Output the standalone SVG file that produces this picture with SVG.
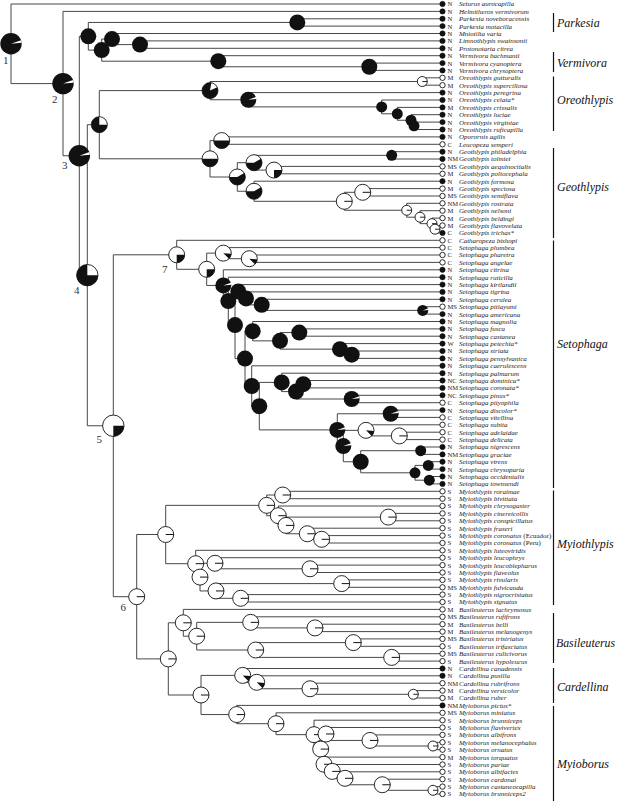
<svg xmlns="http://www.w3.org/2000/svg" width="617" height="801" viewBox="0 0 617 801">
<style>
.e{fill:none;stroke:#333;stroke-width:0.9}
.f{fill:#111;stroke:#111;stroke-width:0.5}
.o{fill:#fff;stroke:#111;stroke-width:0.9}
.c{font-family:"Liberation Serif",serif;font-size:6.6px;fill:#222}
.n{font-family:"Liberation Serif",serif;font-size:7px;font-style:italic;fill:#222}
.g{font-family:"Liberation Serif",serif;font-size:12px;font-style:italic;fill:#111}
.l{font-family:"Liberation Serif",serif;font-size:11px;fill:#333}
.b{stroke:#111;stroke-width:1.2}
.ro{font-style:normal}
</style>
<defs>
<g id="bk11w"><circle r="10.7" fill="#111"/><path d="M0 0L10.05 -3.66A10.7 10.7 0 0 1 10.66 -0.93Z" fill="#fff"/></g>
<g id="bk11q"><circle r="10.7" fill="#111"/><path d="M0 0V-10.7A10.7 10.7 0 0 1 10.7 0Z" fill="#fff"/><circle r="10.7" fill="none" stroke="#111" stroke-width="0.8"/></g>
<g id="wt11q"><circle r="10.7" fill="#fff" stroke="#111" stroke-width="0.9"/><path d="M0 0H10.7A10.7 10.7 0 0 1 0 10.7Z" fill="#111"/></g>
<g id="wt8q"><circle r="8" fill="#fff" stroke="#111" stroke-width="0.9"/><path d="M0 0H8A8 8 0 0 1 0 8Z" fill="#111"/></g>
<g id="wt8l"><circle r="8" fill="#fff" stroke="#111" stroke-width="0.9"/><path d="M0 0H8" stroke="#111" stroke-width="1"/></g>
<g id="wt5l"><circle r="5" fill="#fff" stroke="#111" stroke-width="0.9"/><path d="M0 0H5" stroke="#111" stroke-width="0.9"/></g>
<g id="wt8w"><circle r="8" fill="#fff" stroke="#111" stroke-width="0.9"/><path d="M0 0L7.97 0.7A8 8 0 0 1 5.66 5.66Z" fill="#111"/></g>
<g id="bk8"><circle r="8" fill="#111"/></g>
<g id="bk55"><circle r="5.5" fill="#111"/></g>
<g id="bk8w"><circle r="8" fill="#111"/><path d="M0 0L7.52 -2.74A8 8 0 0 1 7.97 -0.7Z" fill="#fff"/></g>
<g id="bk55w"><circle r="5.5" fill="#111"/><path d="M0 0L5.17 -1.88A5.5 5.5 0 0 1 5.48 -0.48Z" fill="#fff"/></g>
<g id="bk8h"><circle r="8" fill="#111"/><path d="M0 0L1.39 -7.88A8 8 0 0 1 7.25 -3.38Z" fill="#fff"/><circle r="8" fill="none" stroke="#111" stroke-width="0.8"/></g>
<g id="bk8q"><circle r="8" fill="#111"/><path d="M0 0V-8A8 8 0 0 1 8 0Z" fill="#fff"/><circle r="8" fill="none" stroke="#111" stroke-width="0.8"/></g>
<g id="half8"><circle r="8" fill="#fff" stroke="#111" stroke-width="0.9"/><path d="M8 0A8 8 0 0 1 -8 0Z" fill="#111"/></g>
<g id="most8"><circle r="8" fill="#fff" stroke="#111" stroke-width="0.9"/><path d="M0 0L6.93 -4A8 8 0 1 1 -8 0Z" fill="#111"/></g>
</defs>
<rect width="617" height="801" fill="#fff"/>
<g id="connectors" class="e">
<path d="M442.5 4H11V83.6H63M442.5 11.4H63V155.75H79.3M88.3 36.3H79.3V275.2H87.3M297.3 22.45H88.3V50.1H101.7M442.5 18.8H297.3V26.1H442.5M112 39.05H101.7V61.2H218.3M442.5 33.5H112V44.6H140M442.5 40.9H140V48.3H442.5M442.5 55.7H218.3V66.75H369.3M442.5 63.1H369.3V70.4H442.5"/>
<path d="M99.3 124.7H87.3V425.75H113.3M210 90.6H99.3V158.8H210M422.3 81.5H210V99.75H248.3M442.5 77.8H422.3V85.2H442.5M442.5 92.6H248.3V106.9H381.7M442.5 100H381.7V113.8H397.3M442.5 107.4H397.3V120.25H411M442.5 114.7H411V125.8H414M442.5 122.1H414V129.5H442.5"/>
<path d="M221.7 140.6H210V177H237.3M442.5 136.9H221.7V144.3H442.5M254 162.7H237.3V191.25H254M391.7 155.35H254V170.1H274M442.5 151.7H391.7V159H442.5M442.5 166.4H274V173.8H442.5M442.5 181.2H254V201.3H344.3M362.7 192.3H344.3V210.25H406.7M442.5 188.6H362.7V196H442.5M442.5 203.3H406.7V217.2H420M442.5 210.7H420V223.65H432M442.5 218.1H432V229.2H435M442.5 225.5H435V232.9H442.5"/>
<path d="M176.7 254.8H113.3V596.7H136.7M442.5 240.3H176.7V269.3H206.7M223.3 253.15H206.7V285.45H223.3M442.5 247.6H223.3V258.7H249.3M442.5 255H249.3V262.4H442.5M442.5 269.8H223.3V301.1H228.3M442.5 277.2H228.3V325.05H235M238.3 291.5H235V358.6H245M442.5 284.6H238.3V298.4H246M442.5 291.9H246V304.85H261.7M442.5 299.3H261.7V310.4H422.7M442.5 306.7H422.7V314.1H442.5"/>
<path d="M252.7 331.2H245V385.98H251.7M442.5 321.5H252.7V340.85H280M299.3 332.55H280V349.15H340M442.5 328.9H299.3V336.2H442.5M442.5 343.6H340V354.7H351.7M442.5 351H351.7V358.4H442.5M442.5 365.8H251.7V406.15H259.3M281.7 382.4H259.3V429.9H337.3M442.5 373.2H281.7V391.6H296M303.3 384.2H296V399H351.7M442.5 380.5H303.3V387.9H442.5M442.5 395.3H351.7V402.7H442.5"/>
<path d="M390.7 413.75H337.3V446.05H343.3M442.5 410.1H390.7V417.4H442.5M366 430.35H343.3V461.75H360.7M442.5 424.8H366V435.9H399.3M442.5 432.2H399.3V439.6H442.5M420.7 450.7H360.7V472.8H415M442.5 447H420.7V454.4H442.5M428.3 465.4H415V480.2H429.3M442.5 461.7H428.3V469.1H442.5M442.5 476.5H429.3V483.9H442.5"/>
<path d="M165.7 534.5H136.7V658.9H168.3M266.7 505.35H165.7V563.7H195.7M282.7 495H266.7V515.7H278.3M442.5 491.3H282.7V498.7H442.5M442.5 506H278.3V525.4H286M388.3 517.1H286V533.75H307.3M442.5 513.4H388.3V520.8H442.5M442.5 528.2H307.3V539.3H321.7M442.5 535.6H321.7V543H442.5M442.5 550.3H195.7V577.1H200M215 563.25H200V590.95H216M442.5 557.7H215V568.8H310M442.5 565.1H310V572.5H442.5M341.7 583.6H216V598.3H240.7M442.5 579.9H341.7V587.3H442.5M442.5 594.6H240.7V602H442.5"/>
<path d="M183.3 622.8H168.3V695H201M442.5 609.4H183.3V636.2H196.7M250.7 622.35H196.7V650H255.7M442.5 616.8H250.7V627.9H315M442.5 624.2H315V631.6H442.5M353.3 642.6H255.7V657.4H391.7M442.5 638.9H353.3V646.3H442.5M442.5 653.7H391.7V661.1H442.5"/>
<path d="M242.7 675.4H201V714.55H236.7M442.5 668.5H242.7V682.3H256.7M442.5 675.8H256.7V688.75H310M442.5 683.2H310V694.3H413.3M442.5 690.6H413.3V698H442.5M442.5 705.4H236.7V723.7H276M442.5 712.8H276V734.65H314M442.5 720.2H314V749.1H320.7M326 733.98H320.7V764.25H324M442.5 727.5H326V740.45H370M442.5 734.9H370V746H433M442.5 742.3H433V749.7H442.5M442.5 757.1H324V771.4H332.3M442.5 764.5H332.3V778.3H345M442.5 771.8H345V784.75H382.3M442.5 779.2H382.3V790.3H433M442.5 786.6H433V794H442.5"/>
</g>
<g id="clades">
<g id="cl-parkesia"><path class="b" d="M553.5 13V32"/><text class="g" x="557" y="27">Parkesia</text></g>
<g id="cl-vermivora"><path class="b" d="M553.5 52V72"/><text class="g" x="557" y="67">Vermivora</text></g>
<g id="cl-oreothlypis"><path class="b" d="M553.5 76.5V131"/><text class="g" x="557" y="104">Oreothlypis</text></g>
<g id="cl-geothlypis"><path class="b" d="M553.5 148V238"/><text class="g" x="557" y="191">Geothlypis</text></g>
<g id="cl-setophaga"><path class="b" d="M553.5 240.5V488"/><text class="g" x="557" y="348">Setophaga</text></g>
<g id="cl-myiothlypis"><path class="b" d="M553.5 490.5V605"/><text class="g" x="557" y="548">Myiothlypis</text></g>
<g id="cl-basileuterus"><path class="b" d="M553.5 613V663"/><text class="g" x="556" y="647" textLength="59" lengthAdjust="spacingAndGlyphs">Basileuterus</text></g>
<g id="cl-cardellina"><path class="b" d="M553.5 668V703"/><text class="g" x="557" y="691">Cardellina</text></g>
<g id="cl-myioborus"><path class="b" d="M553.5 706V801"/><text class="g" x="557" y="768">Myioborus</text></g>
</g>
<g id="tips">
<g id="t1"><circle class="f" cx="442.5" cy="4" r="2.7"/><text class="c" x="447.5" y="6.4">N</text><text class="n" x="459" y="6.4">Seiurus aurocapilla</text></g>
<g id="t2"><circle class="f" cx="442.5" cy="11.4" r="2.7"/><text class="c" x="447.5" y="13.8">N</text><text class="n" x="459" y="13.8">Helmitheros vermivorum</text></g>
<g id="t3"><circle class="f" cx="442.5" cy="18.8" r="2.7"/><text class="c" x="447.5" y="21.2">N</text><text class="n" x="459" y="21.2">Parkesia noveboracensis</text></g>
<g id="t4"><circle class="f" cx="442.5" cy="26.1" r="2.7"/><text class="c" x="447.5" y="28.5">N</text><text class="n" x="459" y="28.5">Parkesia motacilla</text></g>
<g id="t5"><circle class="f" cx="442.5" cy="33.5" r="2.7"/><text class="c" x="447.5" y="35.9">N</text><text class="n" x="459" y="35.9">Mniotilta varia</text></g>
<g id="t6"><circle class="f" cx="442.5" cy="40.9" r="2.7"/><text class="c" x="447.5" y="43.3">N</text><text class="n" x="459" y="43.3">Limnothlypis swainsonii</text></g>
<g id="t7"><circle class="f" cx="442.5" cy="48.3" r="2.7"/><text class="c" x="447.5" y="50.7">N</text><text class="n" x="459" y="50.7">Protonotaria citrea</text></g>
<g id="t8"><circle class="f" cx="442.5" cy="55.7" r="2.7"/><text class="c" x="447.5" y="58.1">N</text><text class="n" x="459" y="58.1">Vermivora bachmanii</text></g>
<g id="t9"><circle class="f" cx="442.5" cy="63.1" r="2.7"/><text class="c" x="447.5" y="65.5">N</text><text class="n" x="459" y="65.5">Vermivora cyanoptera</text></g>
<g id="t10"><circle class="f" cx="442.5" cy="70.4" r="2.7"/><text class="c" x="447.5" y="72.8">N</text><text class="n" x="459" y="72.8">Vermivora chrysoptera</text></g>
<g id="t11"><circle class="o" cx="442.5" cy="77.8" r="2.7"/><text class="c" x="447.5" y="80.2">M</text><text class="n" x="459" y="80.2">Oreothlypis gutturalis</text></g>
<g id="t12"><circle class="o" cx="442.5" cy="85.2" r="2.7"/><text class="c" x="447.5" y="87.6">M</text><text class="n" x="459" y="87.6">Oreothlypis superciliosa</text></g>
<g id="t13"><circle class="f" cx="442.5" cy="92.6" r="2.7"/><text class="c" x="447.5" y="95">N</text><text class="n" x="459" y="95">Oreothlypis peregrina</text></g>
<g id="t14"><circle class="f" cx="442.5" cy="100" r="2.7"/><text class="c" x="447.5" y="102.4">N</text><text class="n" x="459" y="102.4">Oreothlypis celata*</text></g>
<g id="t15"><circle class="f" cx="442.5" cy="107.4" r="2.7"/><text class="c" x="447.5" y="109.8">M</text><text class="n" x="459" y="109.8">Oreothlypis crissalis</text></g>
<g id="t16"><circle class="f" cx="442.5" cy="114.7" r="2.7"/><text class="c" x="447.5" y="117.1">N</text><text class="n" x="459" y="117.1">Oreothlypis luciae</text></g>
<g id="t17"><circle class="f" cx="442.5" cy="122.1" r="2.7"/><text class="c" x="447.5" y="124.5">N</text><text class="n" x="459" y="124.5">Oreothlypis virginiae</text></g>
<g id="t18"><circle class="f" cx="442.5" cy="129.5" r="2.7"/><text class="c" x="447.5" y="131.9">N</text><text class="n" x="459" y="131.9">Oreothlypis ruficapilla</text></g>
<g id="t19"><circle class="f" cx="442.5" cy="136.9" r="2.7"/><text class="c" x="447.5" y="139.3">N</text><text class="n" x="459" y="139.3">Oporornis agilis</text></g>
<g id="t20"><circle class="o" cx="442.5" cy="144.3" r="2.7"/><text class="c" x="447.5" y="146.7">C</text><text class="n" x="459" y="146.7">Leucopeza semperi</text></g>
<g id="t21"><circle class="f" cx="442.5" cy="151.7" r="2.7"/><text class="c" x="447.5" y="154.1">N</text><text class="n" x="459" y="154.1">Geothlypis philadelphia</text></g>
<g id="t22"><circle class="f" cx="442.5" cy="159" r="2.7"/><text class="c" x="447.5" y="161.4">NM</text><text class="n" x="459" y="161.4">Geothlypis tolmiei</text></g>
<g id="t23"><circle class="o" cx="442.5" cy="166.4" r="2.7"/><text class="c" x="447.5" y="168.8">MS</text><text class="n" x="459" y="168.8">Geothlypis aequinoctialis</text></g>
<g id="t24"><circle class="o" cx="442.5" cy="173.8" r="2.7"/><text class="c" x="447.5" y="176.2">M</text><text class="n" x="459" y="176.2">Geothlypis poliocephala</text></g>
<g id="t25"><circle class="f" cx="442.5" cy="181.2" r="2.7"/><text class="c" x="447.5" y="183.6">N</text><text class="n" x="459" y="183.6">Geothlypis formosa</text></g>
<g id="t26"><circle class="o" cx="442.5" cy="188.6" r="2.7"/><text class="c" x="447.5" y="191">M</text><text class="n" x="459" y="191">Geothlypis speciosa</text></g>
<g id="t27"><circle class="o" cx="442.5" cy="196" r="2.7"/><text class="c" x="447.5" y="198.4">MS</text><text class="n" x="459" y="198.4">Geothlypis semiflava</text></g>
<g id="t28"><circle class="o" cx="442.5" cy="203.3" r="2.7"/><text class="c" x="447.5" y="205.7">NM</text><text class="n" x="459" y="205.7">Geothlypis rostrata</text></g>
<g id="t29"><circle class="o" cx="442.5" cy="210.7" r="2.7"/><text class="c" x="447.5" y="213.1">M</text><text class="n" x="459" y="213.1">Geothlypis nelsoni</text></g>
<g id="t30"><circle class="o" cx="442.5" cy="218.1" r="2.7"/><text class="c" x="447.5" y="220.5">M</text><text class="n" x="459" y="220.5">Geothlypis beldingi</text></g>
<g id="t31"><circle class="o" cx="442.5" cy="225.5" r="2.7"/><text class="c" x="447.5" y="227.9">M</text><text class="n" x="459" y="227.9">Geothlypis flavovelata</text></g>
<g id="t32"><circle class="f" cx="442.5" cy="232.9" r="2.7"/><text class="c" x="447.5" y="235.3">C</text><text class="n" x="459" y="235.3">Geothlypis trichas*</text></g>
<g id="t33"><circle class="o" cx="442.5" cy="240.3" r="2.7"/><text class="c" x="447.5" y="242.7">C</text><text class="n" x="459" y="242.7">Catharopeza bishopi</text></g>
<g id="t34"><circle class="o" cx="442.5" cy="247.6" r="2.7"/><text class="c" x="447.5" y="250">C</text><text class="n" x="459" y="250">Setophaga plumbea</text></g>
<g id="t35"><circle class="o" cx="442.5" cy="255" r="2.7"/><text class="c" x="447.5" y="257.4">C</text><text class="n" x="459" y="257.4">Setophaga pharetra</text></g>
<g id="t36"><circle class="o" cx="442.5" cy="262.4" r="2.7"/><text class="c" x="447.5" y="264.8">C</text><text class="n" x="459" y="264.8">Setophaga angelae</text></g>
<g id="t37"><circle class="f" cx="442.5" cy="269.8" r="2.7"/><text class="c" x="447.5" y="272.2">N</text><text class="n" x="459" y="272.2">Setophaga citrina</text></g>
<g id="t38"><circle class="f" cx="442.5" cy="277.2" r="2.7"/><text class="c" x="447.5" y="279.6">N</text><text class="n" x="459" y="279.6">Setophaga ruticilla</text></g>
<g id="t39"><circle class="f" cx="442.5" cy="284.6" r="2.7"/><text class="c" x="447.5" y="287">N</text><text class="n" x="459" y="287">Setophaga kirtlandii</text></g>
<g id="t40"><circle class="f" cx="442.5" cy="291.9" r="2.7"/><text class="c" x="447.5" y="294.3">N</text><text class="n" x="459" y="294.3">Setophaga tigrina</text></g>
<g id="t41"><circle class="f" cx="442.5" cy="299.3" r="2.7"/><text class="c" x="447.5" y="301.7">N</text><text class="n" x="459" y="301.7">Setophaga cerulea</text></g>
<g id="t42"><circle class="o" cx="442.5" cy="306.7" r="2.7"/><text class="c" x="447.5" y="309.1">MS</text><text class="n" x="459" y="309.1">Setophaga pitiayumi</text></g>
<g id="t43"><circle class="f" cx="442.5" cy="314.1" r="2.7"/><text class="c" x="447.5" y="316.5">N</text><text class="n" x="459" y="316.5">Setophaga americana</text></g>
<g id="t44"><circle class="f" cx="442.5" cy="321.5" r="2.7"/><text class="c" x="447.5" y="323.9">N</text><text class="n" x="459" y="323.9">Setophaga magnolia</text></g>
<g id="t45"><circle class="f" cx="442.5" cy="328.9" r="2.7"/><text class="c" x="447.5" y="331.3">N</text><text class="n" x="459" y="331.3">Setophaga fusca</text></g>
<g id="t46"><circle class="f" cx="442.5" cy="336.2" r="2.7"/><text class="c" x="447.5" y="338.6">N</text><text class="n" x="459" y="338.6">Setophaga castanea</text></g>
<g id="t47"><circle class="f" cx="442.5" cy="343.6" r="2.7"/><text class="c" x="447.5" y="346">W</text><text class="n" x="459" y="346">Setophaga petechia*</text></g>
<g id="t48"><circle class="f" cx="442.5" cy="351" r="2.7"/><text class="c" x="447.5" y="353.4">N</text><text class="n" x="459" y="353.4">Setophaga striata</text></g>
<g id="t49"><circle class="f" cx="442.5" cy="358.4" r="2.7"/><text class="c" x="447.5" y="360.8">N</text><text class="n" x="459" y="360.8">Setophaga pensylvanica</text></g>
<g id="t50"><circle class="f" cx="442.5" cy="365.8" r="2.7"/><text class="c" x="447.5" y="368.2">N</text><text class="n" x="459" y="368.2">Setophaga caerulescens</text></g>
<g id="t51"><circle class="f" cx="442.5" cy="373.2" r="2.7"/><text class="c" x="447.5" y="375.6">N</text><text class="n" x="459" y="375.6">Setophaga palmarum</text></g>
<g id="t52"><circle class="f" cx="442.5" cy="380.5" r="2.7"/><text class="c" x="447.5" y="382.9">NC</text><text class="n" x="459" y="382.9">Setophaga dominica*</text></g>
<g id="t53"><circle class="f" cx="442.5" cy="387.9" r="2.7"/><text class="c" x="447.5" y="390.3">NM</text><text class="n" x="459" y="390.3">Setophaga coronata*</text></g>
<g id="t54"><circle class="f" cx="442.5" cy="395.3" r="2.7"/><text class="c" x="447.5" y="397.7">NC</text><text class="n" x="459" y="397.7">Setophaga pinus*</text></g>
<g id="t55"><circle class="o" cx="442.5" cy="402.7" r="2.7"/><text class="c" x="447.5" y="405.1">C</text><text class="n" x="459" y="405.1">Setophaga pityophila</text></g>
<g id="t56"><circle class="f" cx="442.5" cy="410.1" r="2.7"/><text class="c" x="447.5" y="412.5">N</text><text class="n" x="459" y="412.5">Setophaga discolor*</text></g>
<g id="t57"><circle class="o" cx="442.5" cy="417.4" r="2.7"/><text class="c" x="447.5" y="419.8">C</text><text class="n" x="459" y="419.8">Setophaga vitellina</text></g>
<g id="t58"><circle class="o" cx="442.5" cy="424.8" r="2.7"/><text class="c" x="447.5" y="427.2">C</text><text class="n" x="459" y="427.2">Setophaga subita</text></g>
<g id="t59"><circle class="o" cx="442.5" cy="432.2" r="2.7"/><text class="c" x="447.5" y="434.6">C</text><text class="n" x="459" y="434.6">Setophaga adelaidae</text></g>
<g id="t60"><circle class="o" cx="442.5" cy="439.6" r="2.7"/><text class="c" x="447.5" y="442">C</text><text class="n" x="459" y="442">Setophaga delicata</text></g>
<g id="t61"><circle class="f" cx="442.5" cy="447" r="2.7"/><text class="c" x="447.5" y="449.4">N</text><text class="n" x="459" y="449.4">Setophaga nigrescens</text></g>
<g id="t62"><circle class="f" cx="442.5" cy="454.4" r="2.7"/><text class="c" x="447.5" y="456.8">NM</text><text class="n" x="459" y="456.8">Setophaga graciae</text></g>
<g id="t63"><circle class="f" cx="442.5" cy="461.7" r="2.7"/><text class="c" x="447.5" y="464.1">N</text><text class="n" x="459" y="464.1">Setophaga virens</text></g>
<g id="t64"><circle class="f" cx="442.5" cy="469.1" r="2.7"/><text class="c" x="447.5" y="471.5">N</text><text class="n" x="459" y="471.5">Setophaga chrysoparia</text></g>
<g id="t65"><circle class="f" cx="442.5" cy="476.5" r="2.7"/><text class="c" x="447.5" y="478.9">N</text><text class="n" x="459" y="478.9">Setophaga occidentalis</text></g>
<g id="t66"><circle class="f" cx="442.5" cy="483.9" r="2.7"/><text class="c" x="447.5" y="486.3">N</text><text class="n" x="459" y="486.3">Setophaga townsendi</text></g>
<g id="t67"><circle class="o" cx="442.5" cy="491.3" r="2.7"/><text class="c" x="447.5" y="493.7">S</text><text class="n" x="459" y="493.7">Myiothlypis roraimae</text></g>
<g id="t68"><circle class="o" cx="442.5" cy="498.7" r="2.7"/><text class="c" x="447.5" y="501.1">S</text><text class="n" x="459" y="501.1">Myiothlypis bivittata</text></g>
<g id="t69"><circle class="o" cx="442.5" cy="506" r="2.7"/><text class="c" x="447.5" y="508.4">S</text><text class="n" x="459" y="508.4">Myiothlypis chrysogaster</text></g>
<g id="t70"><circle class="o" cx="442.5" cy="513.4" r="2.7"/><text class="c" x="447.5" y="515.8">S</text><text class="n" x="459" y="515.8">Myiothlypis cinereicollis</text></g>
<g id="t71"><circle class="o" cx="442.5" cy="520.8" r="2.7"/><text class="c" x="447.5" y="523.2">S</text><text class="n" x="459" y="523.2">Myiothlypis conspicillatus</text></g>
<g id="t72"><circle class="o" cx="442.5" cy="528.2" r="2.7"/><text class="c" x="447.5" y="530.6">S</text><text class="n" x="459" y="530.6">Myiothlypis fraseri</text></g>
<g id="t73"><circle class="o" cx="442.5" cy="535.6" r="2.7"/><text class="c" x="447.5" y="538">S</text><text class="n" x="459" y="538">Myiothlypis coronatus <tspan class="ro">(Ecuador)</tspan></text></g>
<g id="t74"><circle class="o" cx="442.5" cy="543" r="2.7"/><text class="c" x="447.5" y="545.4">S</text><text class="n" x="459" y="545.4">Myiothlypis coronatus <tspan class="ro">(Peru)</tspan></text></g>
<g id="t75"><circle class="o" cx="442.5" cy="550.3" r="2.7"/><text class="c" x="447.5" y="552.7">S</text><text class="n" x="459" y="552.7">Myiothlypis luteoviridis</text></g>
<g id="t76"><circle class="o" cx="442.5" cy="557.7" r="2.7"/><text class="c" x="447.5" y="560.1">S</text><text class="n" x="459" y="560.1">Myiothlypis leucophrys</text></g>
<g id="t77"><circle class="o" cx="442.5" cy="565.1" r="2.7"/><text class="c" x="447.5" y="567.5">S</text><text class="n" x="459" y="567.5">Myiothlypis leucoblepharus</text></g>
<g id="t78"><circle class="o" cx="442.5" cy="572.5" r="2.7"/><text class="c" x="447.5" y="574.9">S</text><text class="n" x="459" y="574.9">Myiothlypis flaveolus</text></g>
<g id="t79"><circle class="o" cx="442.5" cy="579.9" r="2.7"/><text class="c" x="447.5" y="582.3">S</text><text class="n" x="459" y="582.3">Myiothlypis rivularis</text></g>
<g id="t80"><circle class="o" cx="442.5" cy="587.3" r="2.7"/><text class="c" x="447.5" y="589.7">MS</text><text class="n" x="459" y="589.7">Myiothlypis fulvicauda</text></g>
<g id="t81"><circle class="o" cx="442.5" cy="594.6" r="2.7"/><text class="c" x="447.5" y="597">S</text><text class="n" x="459" y="597">Myiothlypis nigrocristatus</text></g>
<g id="t82"><circle class="o" cx="442.5" cy="602" r="2.7"/><text class="c" x="447.5" y="604.4">S</text><text class="n" x="459" y="604.4">Myiothlypis signatus</text></g>
<g id="t83"><circle class="o" cx="442.5" cy="609.4" r="2.7"/><text class="c" x="447.5" y="611.8">M</text><text class="n" x="459" y="611.8">Basileuterus lachrymosus</text></g>
<g id="t84"><circle class="o" cx="442.5" cy="616.8" r="2.7"/><text class="c" x="447.5" y="619.2">MS</text><text class="n" x="459" y="619.2">Basileuterus rufifrons</text></g>
<g id="t85"><circle class="o" cx="442.5" cy="624.2" r="2.7"/><text class="c" x="447.5" y="626.6">M</text><text class="n" x="459" y="626.6">Basileuterus belli</text></g>
<g id="t86"><circle class="o" cx="442.5" cy="631.6" r="2.7"/><text class="c" x="447.5" y="634">M</text><text class="n" x="459" y="634">Basileuterus melanogenys</text></g>
<g id="t87"><circle class="o" cx="442.5" cy="638.9" r="2.7"/><text class="c" x="447.5" y="641.3">MS</text><text class="n" x="459" y="641.3">Basileuterus tristriatus</text></g>
<g id="t88"><circle class="o" cx="442.5" cy="646.3" r="2.7"/><text class="c" x="447.5" y="648.7">S</text><text class="n" x="459" y="648.7">Basileuterus trifasciatus</text></g>
<g id="t89"><circle class="o" cx="442.5" cy="653.7" r="2.7"/><text class="c" x="447.5" y="656.1">MS</text><text class="n" x="459" y="656.1">Basileuterus culicivorus</text></g>
<g id="t90"><circle class="o" cx="442.5" cy="661.1" r="2.7"/><text class="c" x="447.5" y="663.5">S</text><text class="n" x="459" y="663.5">Basileuterus hypoleucus</text></g>
<g id="t91"><circle class="f" cx="442.5" cy="668.5" r="2.7"/><text class="c" x="447.5" y="670.9">N</text><text class="n" x="459" y="670.9">Cardellina canadensis</text></g>
<g id="t92"><circle class="f" cx="442.5" cy="675.8" r="2.7"/><text class="c" x="447.5" y="678.2">N</text><text class="n" x="459" y="678.2">Cardellina pusilla</text></g>
<g id="t93"><circle class="o" cx="442.5" cy="683.2" r="2.7"/><text class="c" x="447.5" y="685.6">NM</text><text class="n" x="459" y="685.6">Cardellina rubrifrons</text></g>
<g id="t94"><circle class="o" cx="442.5" cy="690.6" r="2.7"/><text class="c" x="447.5" y="693">M</text><text class="n" x="459" y="693">Cardellina versicolor</text></g>
<g id="t95"><circle class="o" cx="442.5" cy="698" r="2.7"/><text class="c" x="447.5" y="700.4">M</text><text class="n" x="459" y="700.4">Cardellina ruber</text></g>
<g id="t96"><circle class="f" cx="442.5" cy="705.4" r="2.7"/><text class="c" x="447.5" y="707.8">NM</text><text class="n" x="459" y="707.8">Myioborus pictus*</text></g>
<g id="t97"><circle class="o" cx="442.5" cy="712.8" r="2.7"/><text class="c" x="447.5" y="715.2">MS</text><text class="n" x="459" y="715.2">Myioborus miniatus</text></g>
<g id="t98"><circle class="o" cx="442.5" cy="720.2" r="2.7"/><text class="c" x="447.5" y="722.6">S</text><text class="n" x="459" y="722.6">Myioborus brunniceps</text></g>
<g id="t99"><circle class="o" cx="442.5" cy="727.5" r="2.7"/><text class="c" x="447.5" y="729.9">S</text><text class="n" x="459" y="729.9">Myioborus flavivertex</text></g>
<g id="t100"><circle class="o" cx="442.5" cy="734.9" r="2.7"/><text class="c" x="447.5" y="737.3">S</text><text class="n" x="459" y="737.3">Myioborus albifrons</text></g>
<g id="t101"><circle class="o" cx="442.5" cy="742.3" r="2.7"/><text class="c" x="447.5" y="744.7">S</text><text class="n" x="459" y="744.7">Myioborus melanocephalus</text></g>
<g id="t102"><circle class="o" cx="442.5" cy="749.7" r="2.7"/><text class="c" x="447.5" y="752.1">S</text><text class="n" x="459" y="752.1">Myioborus ornatus</text></g>
<g id="t103"><circle class="o" cx="442.5" cy="757.1" r="2.7"/><text class="c" x="447.5" y="759.5">M</text><text class="n" x="459" y="759.5">Myioborus torquatus</text></g>
<g id="t104"><circle class="o" cx="442.5" cy="764.5" r="2.7"/><text class="c" x="447.5" y="766.9">S</text><text class="n" x="459" y="766.9">Myioborus pariae</text></g>
<g id="t105"><circle class="o" cx="442.5" cy="771.8" r="2.7"/><text class="c" x="447.5" y="774.2">S</text><text class="n" x="459" y="774.2">Myioborus albifacies</text></g>
<g id="t106"><circle class="o" cx="442.5" cy="779.2" r="2.7"/><text class="c" x="447.5" y="781.6">S</text><text class="n" x="459" y="781.6">Myioborus cardonai</text></g>
<g id="t107"><circle class="o" cx="442.5" cy="786.6" r="2.7"/><text class="c" x="447.5" y="789">S</text><text class="n" x="459" y="789">Myioborus castaneocapilla</text></g>
<g id="t108"><circle class="o" cx="442.5" cy="794" r="2.7"/><text class="c" x="447.5" y="796.4">S</text><text class="n" x="459" y="796.4">Myioborus brunniceps2</text></g>
</g>
<g id="nodes">
<g id="n1"><use href="#bk11w" x="11" y="43.8"/><text class="l" x="3" y="64">1</text></g>
<g id="n2"><use href="#bk11w" x="63" y="83.6"/><text class="l" x="52" y="103">2</text></g>
<g id="n3"><use href="#bk11w" x="79.3" y="155.75"/><text class="l" x="62" y="169">3</text></g>
<g id="n4"><use href="#bk11q" x="87.3" y="275.2"/><text class="l" x="74" y="294">4</text></g>
<g id="n5"><use href="#wt11q" x="113.3" y="425.75"/><text class="l" x="96.5" y="443">5</text></g>
<g id="n6"><use href="#wt8l" x="136.7" y="596.7"/><text class="l" x="120.5" y="611">6</text></g>
<g id="n7"><use href="#wt8q" x="176.7" y="254.8"/><text class="l" x="162" y="273">7</text></g>
<g id="nA"><use href="#bk8" x="88.3" y="36.3"/></g>
<g id="nP1"><use href="#bk8" x="297.3" y="22.45"/></g>
<g id="nB"><use href="#bk8" x="101.7" y="50.1"/></g>
<g id="nC"><use href="#bk8" x="112" y="39.05"/></g>
<g id="nD"><use href="#bk8" x="140" y="44.6"/></g>
<g id="nE"><use href="#bk8" x="218.3" y="61.2"/></g>
<g id="nF"><use href="#bk8" x="369.3" y="66.75"/></g>
<g id="nG"><use href="#bk8q" x="99.3" y="124.7"/></g>
<g id="nH"><use href="#bk8h" x="210" y="90.6"/></g>
<g id="nO1"><use href="#wt5l" x="422.3" y="81.5"/></g>
<g id="nJ"><use href="#bk8w" x="248.3" y="99.75"/></g>
<g id="nK"><use href="#bk55" x="381.7" y="106.9"/></g>
<g id="nL"><use href="#bk55" x="397.3" y="113.8"/></g>
<g id="nM"><use href="#bk55" x="411" y="120.25"/></g>
<g id="nN"><use href="#bk55" x="414" y="125.8"/></g>
<g id="nI"><use href="#half8" x="210" y="158.8"/></g>
<g id="nO"><use href="#half8" x="221.7" y="140.6"/></g>
<g id="nP"><use href="#most8" x="237.3" y="177"/></g>
<g id="nR"><use href="#most8" x="254" y="162.7"/></g>
<g id="nQ"><use href="#bk55" x="391.7" y="155.35"/></g>
<g id="nT"><use href="#wt8q" x="274" y="170.1"/></g>
<g id="nS"><use href="#most8" x="254" y="191.25"/></g>
<g id="nU"><use href="#wt8l" x="344.3" y="201.3"/></g>
<g id="nV"><use href="#wt8l" x="362.7" y="192.3"/></g>
<g id="nW"><use href="#wt5l" x="406.7" y="210.25"/></g>
<g id="nX"><use href="#wt5l" x="420" y="217.2"/></g>
<g id="nY"><use href="#wt5l" x="432" y="223.65"/></g>
<g id="nZ"><use href="#wt5l" x="435" y="229.2"/></g>
<g id="nAA"><use href="#wt8q" x="206.7" y="269.3"/></g>
<g id="nAB"><use href="#wt8w" x="223.3" y="253.15"/></g>
<g id="nAB2"><use href="#wt8w" x="249.3" y="258.7"/></g>
<g id="nAC"><use href="#bk8w" x="223.3" y="285.45"/></g>
<g id="ns28"><use href="#bk8" x="228.3" y="301.1"/></g>
<g id="ns27"><use href="#bk8" x="235" y="325.05"/></g>
<g id="ns4"><use href="#bk8" x="238.3" y="291.5"/></g>
<g id="ns3"><use href="#bk8" x="246" y="298.4"/></g>
<g id="ns2"><use href="#bk8" x="261.7" y="304.85"/></g>
<g id="ns1"><use href="#bk55w" x="422.7" y="310.4"/></g>
<g id="ns26"><use href="#bk8" x="245" y="358.6"/></g>
<g id="ns9"><use href="#bk8" x="252.7" y="331.2"/></g>
<g id="ns8"><use href="#bk8" x="280" y="340.85"/></g>
<g id="ns7"><use href="#bk8" x="299.3" y="332.55"/></g>
<g id="ns6"><use href="#bk8" x="340" y="349.15"/></g>
<g id="ns5"><use href="#bk8" x="351.7" y="354.7"/></g>
<g id="ns25"><use href="#bk8" x="251.7" y="385.98"/></g>
<g id="ns24"><use href="#bk8" x="259.3" y="406.15"/></g>
<g id="ns13"><use href="#bk8" x="281.7" y="382.4"/></g>
<g id="ns12"><use href="#bk8" x="296" y="391.6"/></g>
<g id="ns11"><use href="#bk8" x="303.3" y="384.2"/></g>
<g id="ns10"><use href="#bk8w" x="351.7" y="399"/></g>
<g id="ns23"><use href="#bk8w" x="337.3" y="429.9"/></g>
<g id="ns14"><use href="#bk8w" x="390.7" y="413.75"/></g>
<g id="ns22"><use href="#bk8w" x="343.3" y="446.05"/></g>
<g id="ns16"><use href="#wt8w" x="366" y="430.35"/></g>
<g id="ns15"><use href="#wt8l" x="399.3" y="435.9"/></g>
<g id="ns21"><use href="#bk8" x="360.7" y="461.75"/></g>
<g id="ns17"><use href="#bk55" x="420.7" y="450.7"/></g>
<g id="ns20"><use href="#bk55" x="415" y="472.8"/></g>
<g id="ns18"><use href="#bk55" x="428.3" y="465.4"/></g>
<g id="ns19"><use href="#bk55" x="429.3" y="480.2"/></g>
<g id="nMA"><use href="#wt8l" x="165.7" y="534.5"/></g>
<g id="nm7"><use href="#wt8l" x="266.7" y="505.35"/></g>
<g id="nm1"><use href="#wt8l" x="282.7" y="495"/></g>
<g id="nm6"><use href="#wt8l" x="278.3" y="515.7"/></g>
<g id="nm5"><use href="#wt8l" x="286" y="525.4"/></g>
<g id="nm2"><use href="#wt8l" x="388.3" y="517.1"/></g>
<g id="nm4"><use href="#wt8l" x="307.3" y="533.75"/></g>
<g id="nm3"><use href="#wt8l" x="321.7" y="539.3"/></g>
<g id="nMC"><use href="#wt8l" x="195.7" y="563.7"/></g>
<g id="nm13"><use href="#wt8l" x="200" y="577.1"/></g>
<g id="nm9"><use href="#wt8l" x="215" y="563.25"/></g>
<g id="nm8"><use href="#wt8l" x="310" y="568.8"/></g>
<g id="nm12"><use href="#wt8l" x="216" y="590.95"/></g>
<g id="nm10"><use href="#wt8l" x="341.7" y="583.6"/></g>
<g id="nm11"><use href="#wt8l" x="240.7" y="598.3"/></g>
<g id="nMB"><use href="#wt8l" x="168.3" y="658.9"/></g>
<g id="nb7"><use href="#wt8l" x="183.3" y="622.8"/></g>
<g id="nb6"><use href="#wt8l" x="196.7" y="636.2"/></g>
<g id="nb2"><use href="#wt8l" x="250.7" y="622.35"/></g>
<g id="nb1"><use href="#wt8l" x="315" y="627.9"/></g>
<g id="nb5"><use href="#wt8l" x="255.7" y="650"/></g>
<g id="nb3"><use href="#wt8l" x="353.3" y="642.6"/></g>
<g id="nb4"><use href="#wt8l" x="391.7" y="657.4"/></g>
<g id="nMD"><use href="#wt8l" x="201" y="695"/></g>
<g id="nc4"><use href="#wt8w" x="242.7" y="675.4"/></g>
<g id="nc3"><use href="#wt8w" x="256.7" y="682.3"/></g>
<g id="nc2"><use href="#wt8l" x="310" y="688.75"/></g>
<g id="nc1"><use href="#wt5l" x="413.3" y="694.3"/></g>
<g id="ny12"><use href="#wt8l" x="236.7" y="714.55"/></g>
<g id="ny11"><use href="#wt8l" x="276" y="723.7"/></g>
<g id="ny10"><use href="#wt8l" x="314" y="734.65"/></g>
<g id="ny3"><use href="#wt8l" x="326" y="733.98"/></g>
<g id="ny9"><use href="#wt8l" x="320.7" y="749.1"/></g>
<g id="ny2"><use href="#wt8l" x="370" y="740.45"/></g>
<g id="ny1"><use href="#wt5l" x="433" y="746"/></g>
<g id="ny8"><use href="#wt8l" x="324" y="764.25"/></g>
<g id="ny7"><use href="#wt8l" x="332.3" y="771.4"/></g>
<g id="ny6"><use href="#wt8l" x="345" y="778.3"/></g>
<g id="ny5"><use href="#wt8l" x="382.3" y="784.75"/></g>
<g id="ny4"><use href="#wt5l" x="433" y="790.3"/></g>
</g>
</svg>
